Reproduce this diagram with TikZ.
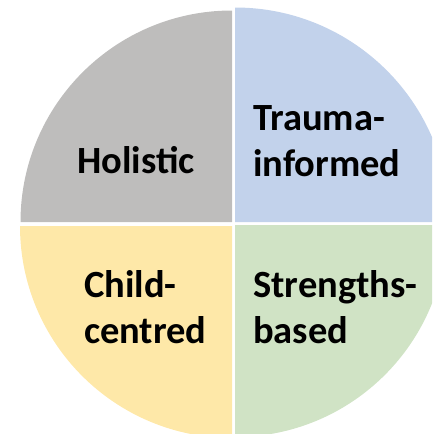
\documentclass[tikz,border=0pt]{standalone}
\usepackage{fontspec}
\setmainfont{Carlito}
\definecolor{holgray}{HTML}{BEBDBC}
\definecolor{traublue}{HTML}{C2D2EB}
\definecolor{strgreen}{HTML}{D0E3C5}
\definecolor{chyellow}{HTML}{FEE8A8}
\tikzset{
  quadlabel/.style={font=\fontsize{38.5}{46}\selectfont\bfseries,align=left,
    inner sep=0pt,anchor=base west}
}
\begin{document}
\begin{tikzpicture}[x=1pt,y=-1pt]
  \useasboundingbox (0,0) rectangle (432,434);
  \clip (0,0) rectangle (432,434);
  % four quarters, each with its own corner and radius
  \foreach \col/\cx/\cy/\rr/\a in {holgray/232/222/211.5/180,
                                   traublue/235/222/214.5/270,
                                   strgreen/235/225/212/0,
                                   chyellow/232/226/212/90} {
    \fill[\col] (\cx,\cy) -- ++(\a:\rr) arc (\a:\a+90:\rr) -- cycle;
  }
  % base of a two-line label is the base of its last line
  \node[quadlabel] (holistic) at (77,173) {Holistic};
  \node[quadlabel] (trauma) at (253,176) {Trauma-\\informed};
  \node[quadlabel] (child) at (84,343) {Child-\\centred};
  \node[quadlabel] (strengths) at (253,343) {Strengths-\\based};
\end{tikzpicture}
\end{document}
